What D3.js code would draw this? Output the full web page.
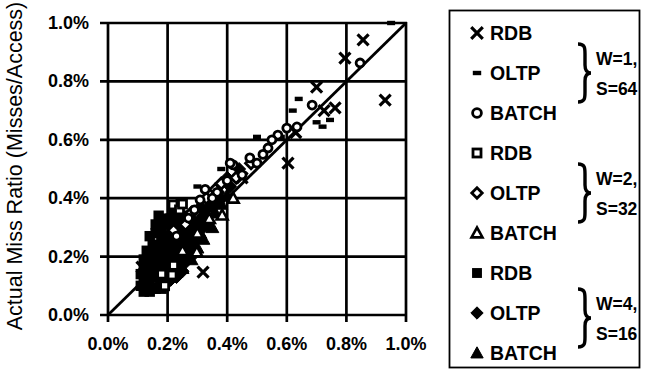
<!DOCTYPE html>
<html><head><meta charset="utf-8">
<script src="https://cdn.jsdelivr.net/npm/d3@7"></script>
<style>body{margin:0;background:#fff}svg{display:block}</style>
</head><body>
<svg id="c" width="645" height="374"></svg>
<script>
// ---------- data (values in %) ----------
const xTicks = [0, 0.2, 0.4, 0.6, 0.8, 1.0];
const yTicks = [0, 0.2, 0.4, 0.6, 0.8, 1.0];
const tickLabels = ["0.0%", "0.2%", "0.4%", "0.6%", "0.8%", "1.0%"];
const yTitle = "Actual Miss Ratio (Misses/Access)";

// W=1, S=64
const rdbW1 = [[0.856,0.942],[0.795,0.880],[0.93,0.736],[0.70,0.78],[0.762,0.709],[0.604,0.52],[0.319,0.147],[0.114,0.164],[0.725,0.70],[0.63,0.625],[0.45,0.47],[0.27,0.30],[0.22,0.25]];
const oltpW1 = [[0.95,1.0],[0.64,0.74],[0.70,0.66],[0.745,0.668],[0.72,0.645],[0.17,0.322],[0.2,0.11],[0.24,0.39],[0.30,0.44],[0.38,0.50],[0.58,0.61],[0.50,0.61],[0.44,0.47],[0.12,0.15],[0.26,0.20],[0.62,0.70]];
const batchW1 = [[0.846,0.863],[0.685,0.719],[0.634,0.644],[0.60,0.64],[0.57,0.616],[0.537,0.572],[0.476,0.538],[0.42,0.514],[0.326,0.43],[0.366,0.42],[0.27,0.332],[0.309,0.394],[0.41,0.52],[0.45,0.48],[0.52,0.55],[0.40,0.46],[0.35,0.40],[0.23,0.27],[0.29,0.36],[0.50,0.52],[0.55,0.60]];
// W=2, S=32
const rdbW2 = [[0.215,0.137],[0.22,0.17],[0.218,0.377],[0.24,0.36],[0.19,0.10],[0.18,0.14],[0.25,0.38]];
const oltpW2 = [[0.28,0.35],[0.33,0.40],[0.38,0.45],[0.43,0.47],[0.22,0.29],[0.48,0.52],[0.26,0.31],[0.36,0.43]];
const batchW2 = [[0.298,0.216],[0.383,0.342],[0.30,0.28],[0.34,0.33],[0.25,0.22],[0.42,0.40]];
// W=4, S=16
const rdbW4 = [[0.12,0.12],[0.13,0.14],[0.14,0.11],[0.15,0.13],[0.13,0.17],[0.15,0.16],[0.16,0.19],[0.17,0.22],[0.18,0.25],[0.16,0.28],[0.18,0.30],[0.20,0.27],[0.19,0.21],[0.21,0.23],[0.22,0.26],[0.17,0.16],[0.14,0.20],[0.20,0.31],[0.23,0.30],[0.24,0.27],[0.12,0.16],[0.15,0.09],[0.18,0.12],[0.20,0.17],[0.16,0.24],[0.19,0.33],[0.22,0.35],
  [0.11,0.10],[0.12,0.08],[0.14,0.08],[0.16,0.09],[0.18,0.09],[0.11,0.14],[0.12,0.19],[0.13,0.22],[0.15,0.24],[0.14,0.27],[0.16,0.31],[0.17,0.34],[0.21,0.33],[0.24,0.33],[0.26,0.34],[0.20,0.19],[0.22,0.21],[0.23,0.24],[0.19,0.14],[0.21,0.16],[0.17,0.19],[0.15,0.21],[0.18,0.27],
  [0.17,0.13],[0.19,0.17],[0.21,0.20],[0.23,0.22],[0.25,0.25],[0.22,0.29],[0.20,0.24],[0.18,0.21]];
const oltpW4 = [[0.22,0.20],[0.24,0.24],[0.26,0.27],[0.28,0.29],[0.25,0.31],[0.27,0.25],[0.23,0.17],[0.29,0.32],[0.31,0.33],[0.20,0.14],[0.17,0.10],[0.26,0.21],[0.30,0.30],[0.33,0.36],[0.35,0.37],[0.32,0.30],[0.21,0.12],[0.14,0.14],[0.38,0.40],[0.41,0.44],
  [0.25,0.28],[0.27,0.31],[0.29,0.26],[0.31,0.37],[0.34,0.39],[0.37,0.42],[0.40,0.47],[0.44,0.50],[0.24,0.20],[0.27,0.22],[0.33,0.31],[0.36,0.38],[0.23,0.13],[0.25,0.15],
  [0.28,0.24],[0.30,0.27],[0.32,0.34],[0.26,0.18],[0.29,0.21]];
const batchW4 = [[0.27,0.23],[0.29,0.27],[0.31,0.28],[0.33,0.33],[0.36,0.35],[0.38,0.38],[0.24,0.19],[0.22,0.15],[0.40,0.41],[0.35,0.30],[0.28,0.19],[0.25,0.16],[0.30,0.23],[0.32,0.26]];

const legendNames = ["RDB","OLTP","BATCH","RDB","OLTP","BATCH","RDB","OLTP","BATCH"];
const legendShapes = ["x","dash","circle","square","diamond","triangle","squareF","diamondF","triangleF"];
const groupLines = [["W=1,","S=64"],["W=2,","S=32"],["W=4,","S=16"]];

// ---------- drawing ----------
const svg = d3.select("#c");
const x = d3.scaleLinear().domain([0, 1.0]).range([108, 406]);
const y = d3.scaleLinear().domain([0, 1.0]).range([315, 23]);
const FONT = "'Liberation Sans', Arial, Helvetica, sans-serif";

// grid
const g = svg.append("g");
g.selectAll(".vg").data(xTicks).join("line")
  .attr("x1", d => x(d)).attr("x2", d => x(d)).attr("y1", y(1) - 1).attr("y2", y(0) + 7)
  .attr("stroke", "#000").attr("stroke-width", 2.7);
g.selectAll(".hg").data(yTicks).join("line")
  .attr("y1", d => y(d)).attr("y2", d => y(d)).attr("x1", x(0) - 8).attr("x2", x(1) + 1)
  .attr("stroke", "#000").attr("stroke-width", 2.7);

// diagonal
g.append("line").attr("x1", x(0)).attr("y1", y(0)).attr("x2", x(1)).attr("y2", y(1))
  .attr("stroke", "#000").attr("stroke-width", 2.8);

// tick labels
g.selectAll(".xl").data(xTicks).join("text")
  .attr("x", d => x(d)).attr("y", 350).attr("text-anchor", "middle")
  .attr("font-family", FONT).attr("font-weight", "bold").attr("font-size", 18)
  .text((d, i) => tickLabels[i]);
g.selectAll(".yl").data(yTicks).join("text")
  .attr("x", 89).attr("y", d => y(d) + 6).attr("text-anchor", "end")
  .attr("font-family", FONT).attr("font-weight", "bold").attr("font-size", 18)
  .text((d, i) => tickLabels[i]);

svg.append("text").attr("transform", "translate(22,166) rotate(-90)")
  .attr("text-anchor", "middle").attr("font-family", FONT).attr("font-size", 21.5)
  .text(yTitle);

// marker drawer
function drawMarker(sel, shape, s) {
  s = s || 1;
  if (shape === "x") {
    const a = 5.5 * s;
    sel.append("path").attr("d", `M${-a},${-a}L${a},${a}M${-a},${a}L${a},${-a}`)
      .attr("stroke", "#000").attr("stroke-width", 3.2).attr("fill", "none");
  } else if (shape === "dash") {
    sel.append("rect").attr("x", -4 * s).attr("y", -2.2).attr("width", 8 * s).attr("height", 4.4).attr("fill", "#000");
  } else if (shape === "circle") {
    sel.append("circle").attr("r", 4 * s).attr("fill", "#fff").attr("stroke", "#000").attr("stroke-width", 2.8);
  } else if (shape === "square") {
    const a = 4 * s;
    sel.append("rect").attr("x", -a).attr("y", -a).attr("width", 2 * a).attr("height", 2 * a)
      .attr("fill", "#fff").attr("stroke", "#000").attr("stroke-width", 2.8);
  } else if (shape === "diamond" || shape === "diamondF") {
    const a = (shape === "diamond" ? 5.5 : 6.5) * s;
    sel.append("path").attr("d", `M0,${-a}L${a},0L0,${a}L${-a},0Z`)
      .attr("fill", shape === "diamond" ? "#fff" : "#000").attr("stroke", "#000").attr("stroke-width", shape === "diamond" ? 2.8 : 1);
  } else if (shape === "triangle" || shape === "triangleF") {
    const a = (shape === "triangle" ? 5.5 : 6.5) * s;
    sel.append("path").attr("d", `M0,${-a}L${a},${a * 0.8}L${-a},${a * 0.8}Z`)
      .attr("fill", shape === "triangle" ? "#fff" : "#000").attr("stroke", "#000").attr("stroke-width", shape === "triangle" ? 2.6 : 1)
      .attr("stroke-linejoin", "miter");
  } else if (shape === "squareF") {
    const a = 5.2 * s;
    sel.append("rect").attr("x", -a).attr("y", -a).attr("width", 2 * a).attr("height", 2 * a).attr("fill", "#000");
  }
}

const seriesList = [
  [rdbW4, "squareF"], [oltpW4, "diamondF"], [batchW4, "triangleF"],
  [rdbW1, "x"], [oltpW1, "dash"],
  [rdbW2, "square"], [batchW2, "triangle"], [oltpW2, "diamond"], [batchW1, "circle"]
];
const pts = svg.append("g");
seriesList.forEach(([data, shape]) => {
  pts.selectAll(null).data(data).join("g")
    .attr("transform", d => `translate(${x(d[0])},${y(d[1])})`)
    .each(function () { drawMarker(d3.select(this), shape, 1); });
});

// legend
const lg = svg.append("g");
lg.append("rect").attr("x", 449.5).attr("y", 10.5).attr("width", 190).attr("height", 357)
  .attr("fill", "#fff").attr("stroke", "#000").attr("stroke-width", 1.8);
const rowY = d3.scaleLinear().domain([0, 8]).range([33, 353]);
const legendScale = [1.05, 1.05, 1.1, 1.0, 0.95, 1.0, 0.95, 0.95, 0.95];
legendNames.forEach((name, i) => {
  const r = lg.append("g").attr("transform", `translate(477,${rowY(i)})`);
  drawMarker(r, legendShapes[i], legendScale[i]);
  lg.append("text").attr("x", 490).attr("y", rowY(i) + 7)
    .attr("font-family", FONT).attr("font-weight", "bold").attr("font-size", 19.5).text(name);
});
groupLines.forEach((lines, k) => {
  const mid = rowY(3 * k + 1) + (k === 2 ? 5 : 0);
  const bx = 583, h = 29, t = 8;
  const path = `M${bx - 5},${mid - h} C${bx + 2},${mid - h} ${bx + 2},${mid - h + 4} ${bx + 2},${mid - h + 10}
    L${bx + 2},${mid - 8} C${bx + 2},${mid - 3} ${bx + 4},${mid} ${bx + t},${mid}
    C${bx + 4},${mid} ${bx + 2},${mid + 3} ${bx + 2},${mid + 8}
    L${bx + 2},${mid + h - 10} C${bx + 2},${mid + h - 4} ${bx + 2},${mid + h} ${bx - 5},${mid + h}`;
  lg.append("path").attr("d", path).attr("fill", "none").attr("stroke", "#000").attr("stroke-width", 3.4);
  lg.append("text").attr("x", 596).attr("y", mid - 8)
    .attr("font-family", FONT).attr("font-weight", "bold").attr("font-size", 17.5).text(lines[0]);
  lg.append("text").attr("x", 596).attr("y", mid + 22)
    .attr("font-family", FONT).attr("font-weight", "bold").attr("font-size", 17.5).text(lines[1]);
});
</script>
</body></html>
